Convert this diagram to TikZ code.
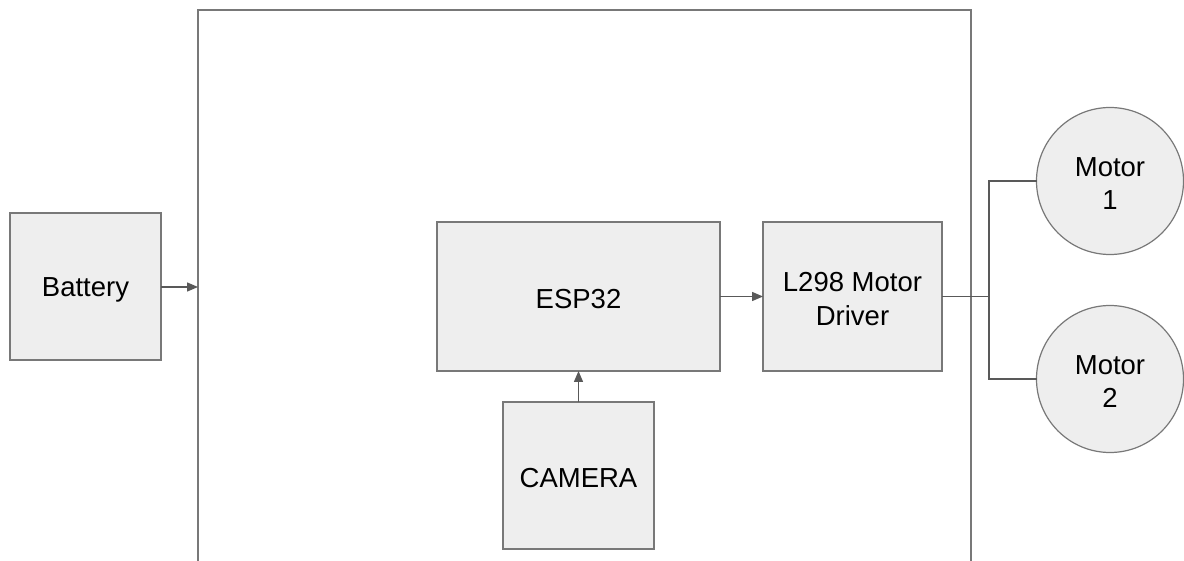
\documentclass[tikz,border=0pt]{standalone}
\usepackage{fontspec}
\setmainfont{Liberation Sans}
\usetikzlibrary{arrows.meta}
\definecolor{boxfill}{HTML}{EEEEEE}
\definecolor{boxline}{HTML}{787878}
\definecolor{wire}{HTML}{595959}
\newcommand\dnline[1]{\raisebox{-3pt}[\height][\depth]{#1}}
\begin{document}
\begin{tikzpicture}[x=1pt,y=-1pt,
  blockbox/.style={draw=boxline,fill=boxfill,line width=1.4pt,rectangle,inner sep=0pt,outer sep=0pt,
    align=center,font=\fontsize{27.5}{34}\selectfont,text=black},
  motorbox/.style={draw=boxline,fill=boxfill,line width=1.2pt,circle,inner sep=0pt,outer sep=0pt,
    minimum size=147pt,align=center,font=\fontsize{27.5}{33}\selectfont,text=black},
  wireline/.style={draw=wire,line width=1.4pt},
  arrowline/.style={wireline,-{Triangle[length=11pt,width=9pt]}},
  frameline/.style={draw=boxline,line width=1.3pt}]
\useasboundingbox (0,0) rectangle (1184,561);
\fill[white] (0,0) rectangle (1184,561);
% frame
\draw[frameline] (198,565) -- (198,10) -- (971,10) -- (971,565);
\coordinate (fin) at (198,287);
% blocks
\node[blockbox,minimum width=151pt,minimum height=147pt] (bat) at (85.5,286.5) {\dnline{Battery}};
\node[blockbox,minimum width=283pt,minimum height=149pt] (esp) at (578.5,296.5) {\dnline{ESP32}};
\node[blockbox,minimum width=179pt,minimum height=149pt] (drv) at (852.5,296.5) {\dnline{L298 Motor}\\\dnline{Driver}};
\node[blockbox,minimum width=151pt,minimum height=147pt] (cam) at (578.5,475.5) {\dnline{CAMERA}};
\node[motorbox] (m1) at (1110,181) {\dnline{Motor}\\\dnline{1}};
\node[motorbox] (m2) at (1110,379) {\dnline{Motor}\\\dnline{2}};
\coordinate (j) at (989,296.5);
% connectors
\draw[arrowline] (bat.east |- fin) -- (fin);
\draw[arrowline] (esp.east) -- (drv.west);
\draw[arrowline] (cam.north) -- (esp.south);
\draw[wireline] (drv.east) -- (j);
\draw[wireline] (j) |- (m1.west);
\draw[wireline] (j) |- (m2.west);
\end{tikzpicture}
\end{document}
